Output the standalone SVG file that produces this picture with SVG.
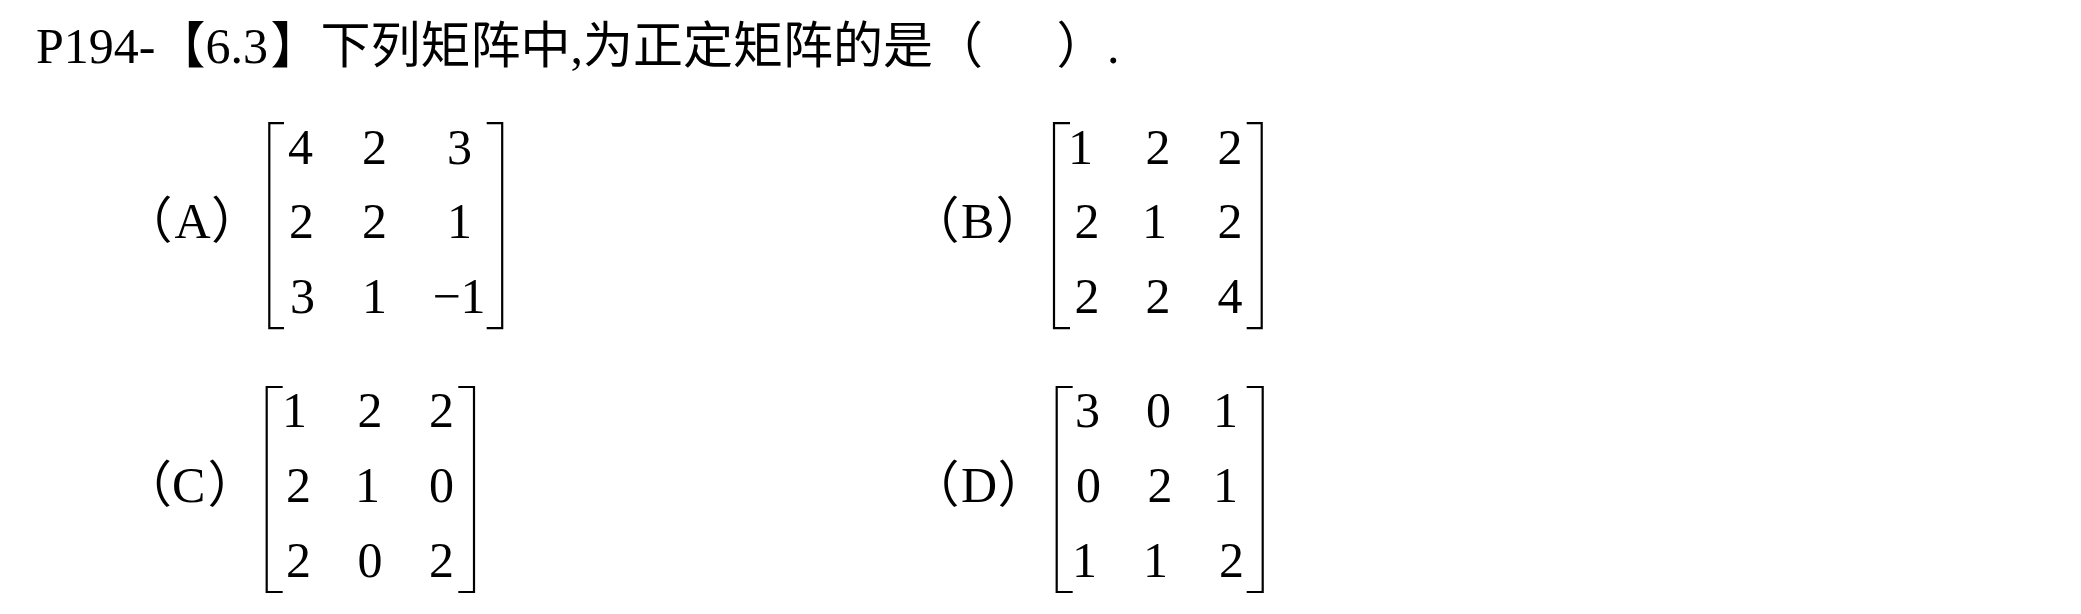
<svg xmlns="http://www.w3.org/2000/svg" width="2081" height="614" viewBox="0 0 2081 614">
<style>
.lt{font-family:"Liberation Serif","Noto Sans CJK SC",serif;font-size:50px;fill:#000}
.cj{font-family:"Noto Sans CJK SC","Liberation Serif",sans-serif;font-size:50px;fill:#000}
.d{font-family:"Liberation Serif",serif;font-size:50px;fill:#000;text-anchor:middle}
.br{fill:none;stroke:#000;stroke-width:2.2}
</style>
<rect width="2081" height="614" fill="#fff"/>
<g id="title">
<text y="63"><tspan class="lt" x="36">P194-</tspan><tspan class="cj" x="155.5">【</tspan><tspan class="lt" x="205.5">6.3</tspan><tspan class="cj" x="270.5">】</tspan><tspan class="cj" x="320.5">下列矩阵中</tspan><tspan class="lt" x="570.5">,</tspan><tspan class="cj" x="583">为正定矩阵的是</tspan><tspan class="cj" x="933">（</tspan><tspan class="cj" x="1056.5">）</tspan><tspan class="lt" x="1107">.</tspan></text>
</g>
<g id="optionA">
<text y="238"><tspan class="cj" x="122.5">（</tspan><tspan class="lt" x="174.5">A</tspan><tspan class="cj" x="211">）</tspan></text>
<path class="br" d="M284,123.2H269.3V328.2H284"/>
<path class="br" d="M486.7,123.2H502.2V328.2H486.7"/>
<text class="d" x="300.5" y="164">4</text><text class="d" x="374.5" y="164">2</text><text class="d" x="459.5" y="164">3</text>
<text class="d" x="301.5" y="238">2</text><text class="d" x="374.5" y="238">2</text><text class="d" x="459.5" y="238">1</text>
<text class="d" x="302.5" y="313">3</text><text class="d" x="374.5" y="313">1</text><text class="d" x="459" y="313">−1</text>
</g>
<g id="optionB">
<text y="238"><tspan class="cj" x="909.5">（</tspan><tspan class="lt" x="961">B</tspan><tspan class="cj" x="995.5">）</tspan></text>
<path class="br" d="M1070,123.2H1054V328.2H1070"/>
<path class="br" d="M1246.7,123.2H1261.7V328.2H1246.7"/>
<text class="d" x="1080.5" y="164">1</text><text class="d" x="1158" y="164">2</text><text class="d" x="1230" y="164">2</text>
<text class="d" x="1087" y="238">2</text><text class="d" x="1154.5" y="238">1</text><text class="d" x="1230" y="238">2</text>
<text class="d" x="1087" y="313">2</text><text class="d" x="1158" y="313">2</text><text class="d" x="1230" y="313">4</text>
</g>
<g id="optionC">
<text y="502"><tspan class="cj" x="122">（</tspan><tspan class="lt" x="172">C</tspan><tspan class="cj" x="207.5">）</tspan></text>
<path class="br" d="M282.7,387H266.7V592H282.7"/>
<path class="br" d="M458.3,387H474V592H458.3"/>
<text class="d" x="294.5" y="427">1</text><text class="d" x="370" y="427">2</text><text class="d" x="441.5" y="427">2</text>
<text class="d" x="298.5" y="502">2</text><text class="d" x="367.5" y="502">1</text><text class="d" x="441.5" y="502">0</text>
<text class="d" x="298.5" y="577">2</text><text class="d" x="370" y="577">0</text><text class="d" x="441.5" y="577">2</text>
</g>
<g id="optionD">
<text y="502"><tspan class="cj" x="909.5">（</tspan><tspan class="lt" x="961">D</tspan><tspan class="cj" x="997.5">）</tspan></text>
<path class="br" d="M1072.7,387H1056.7V592H1072.7"/>
<path class="br" d="M1246.7,387H1262.7V592H1246.7"/>
<text class="d" x="1087.5" y="427">3</text><text class="d" x="1158.5" y="427">0</text><text class="d" x="1225.5" y="427">1</text>
<text class="d" x="1088.5" y="502">0</text><text class="d" x="1160" y="502">2</text><text class="d" x="1225.5" y="502">1</text>
<text class="d" x="1084.5" y="577">1</text><text class="d" x="1155.5" y="577">1</text><text class="d" x="1231.5" y="577">2</text>
</g>
<g id="connectors"/>
</svg>
